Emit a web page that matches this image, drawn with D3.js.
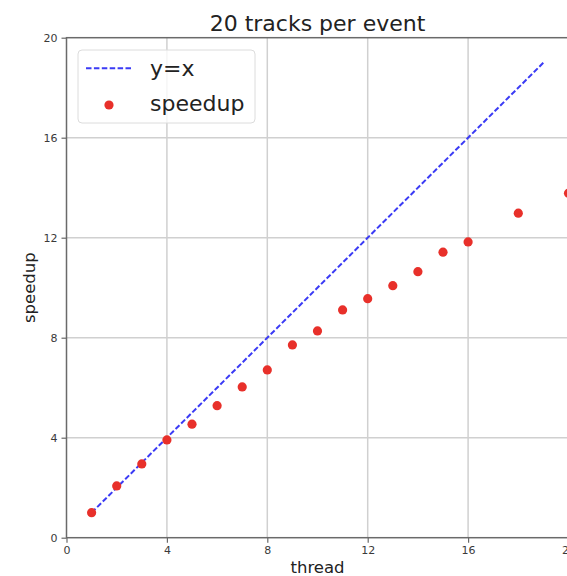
<!DOCTYPE html>
<html>
<head>
<meta charset="utf-8">
<script src="https://cdn.jsdelivr.net/npm/d3@7/dist/d3.min.js"></script>
<style>
  html, body { margin: 0; padding: 0; background: #fff; }
  svg { display: block; font-family: "DejaVu Sans", sans-serif; }
</style>
</head>
<body>
<svg id="chart" width="567" height="576"></svg>
<script>
const threads = [1, 2, 3, 4, 5, 6, 7, 8, 9, 10, 11, 12, 13, 14, 15, 16, 18, 20];
const speedup = [1.0, 2.07, 2.95, 3.91, 4.54, 5.28, 6.03, 6.71, 7.71, 8.27, 9.11, 9.56, 10.08, 10.64, 11.42, 11.83, 12.98, 13.78];
const idealX = [1, 19];
const xTicks = [0, 4, 8, 12, 16, 20];
const yTicks = [0, 4, 8, 12, 16, 20];
const titleText = "20 tracks per event";
const xLabel = "thread";
const yLabel = "speedup";
const legendLabels = ["y=x", "speedup"];

(function () {
const svg = d3.select("#chart");
const pL = 66.5, pR = 568.5, pT = 37.7, pB = 537.7;

const x = d3.scaleLinear().domain([0, 20]).range([pL, pR]);
const y = d3.scaleLinear().domain([0, 20]).range([pB, pT]);

const gridColor = "#d0d0d0";
const spineColor = "#6a6a6a";
const lineColor = "#3b3bf5";

// grid
const grid = svg.append("g");
grid.selectAll("line.vx").data(xTicks.filter(d => d > 0 && d < 20)).enter().append("line")
  .attr("x1", d => x(d)).attr("x2", d => x(d)).attr("y1", pT).attr("y2", pB)
  .attr("stroke", gridColor).attr("stroke-width", 1.5);
grid.selectAll("line.hy").data(yTicks.filter(d => d > 0 && d < 20)).enter().append("line")
  .attr("y1", d => y(d)).attr("y2", d => y(d)).attr("x1", pL).attr("x2", pR)
  .attr("stroke", gridColor).attr("stroke-width", 1.5);

// axes
const xAxis = d3.axisBottom(x).tickValues(xTicks).tickSize(5).tickPadding(4).tickFormat(d3.format("d"));
const yAxis = d3.axisLeft(y).tickValues(yTicks).tickSize(5).tickPadding(4).tickFormat(d3.format("d"));

const gx = svg.append("g").attr("transform", `translate(0,${pB})`).call(xAxis);
const gy = svg.append("g").attr("transform", `translate(${pL},0)`).call(yAxis);
[gx, gy].forEach(g => {
  g.select(".domain").remove();
  g.selectAll(".tick line").attr("stroke", spineColor).attr("stroke-width", 1.2);
  g.selectAll(".tick text").attr("fill", "#3a3a3a").style("font-size", "11px")
    .style("font-family", "DejaVu Sans, sans-serif");
});

// spines
svg.append("rect").attr("x", pL).attr("y", pT).attr("width", pR - pL).attr("height", pB - pT)
  .attr("fill", "none").attr("stroke", spineColor).attr("stroke-width", 1.5);

// y = x line
const line = d3.line().x(d => x(d)).y(d => y(d));
svg.append("path").datum(idealX).attr("d", line)
  .attr("fill", "none").attr("stroke", lineColor).attr("stroke-width", 2)
  .attr("stroke-dasharray", "5.5,2.4");

// points
svg.append("g").selectAll("circle").data(threads).enter().append("circle")
  .attr("cx", d => x(d)).attr("cy", (d, i) => y(speedup[i])).attr("r", 4.6)
  .attr("fill", "#e8302a");

// title
svg.append("text").attr("x", (pL + pR) / 2).attr("y", 31).attr("text-anchor", "middle")
  .style("font-size", "22px").attr("fill", "#222").text(titleText);

// axis labels
svg.append("text").attr("x", (pL + pR) / 2).attr("y", 573).attr("text-anchor", "middle")
  .style("font-size", "16.5px").attr("fill", "#222").text(xLabel);
svg.append("text").attr("transform", `translate(35,${(pT + pB) / 2}) rotate(-90)`)
  .attr("text-anchor", "middle").style("font-size", "16.5px").attr("fill", "#222").text(yLabel);

// legend
const lg = svg.append("g");
lg.append("rect").attr("x", 78).attr("y", 50).attr("width", 177).attr("height", 73)
  .attr("rx", 4).attr("fill", "#fff").attr("fill-opacity", 0.8)
  .attr("stroke", "#dcdcdc").attr("stroke-width", 1);
lg.append("line").attr("x1", 86).attr("x2", 132).attr("y1", 68.3).attr("y2", 68.3)
  .attr("stroke", lineColor).attr("stroke-width", 2).attr("stroke-dasharray", "5.5,2.4");
lg.append("circle").attr("cx", 109).attr("cy", 105).attr("r", 4.6).attr("fill", "#e8302a");
lg.append("text").attr("x", 150).attr("y", 76).style("font-size", "22px").attr("fill", "#222").text(legendLabels[0]);
lg.append("text").attr("x", 150).attr("y", 111).style("font-size", "22px").attr("fill", "#222").text(legendLabels[1]);
})();
</script>
</body>
</html>
